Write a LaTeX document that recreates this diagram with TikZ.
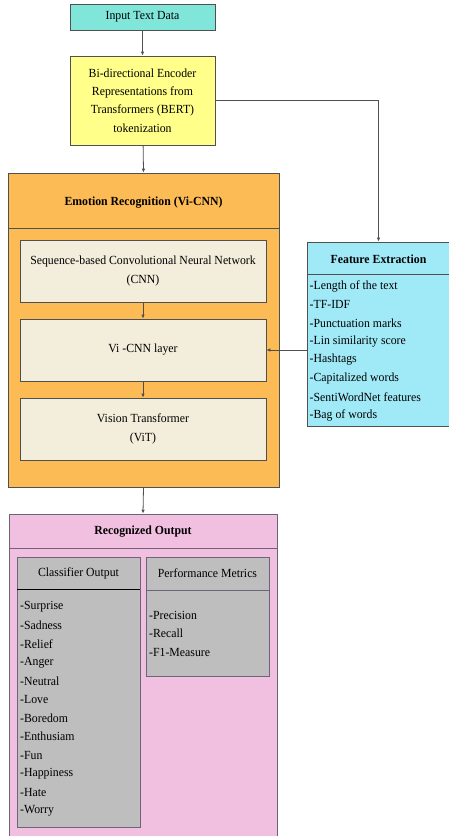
\documentclass[tikz,border=0pt]{standalone}
\usepackage{fontspec}
\setmainfont{Liberation Serif}[FakeStretch=0.95]
\usetikzlibrary{arrows.meta}
\definecolor{cInput}{HTML}{80E6D9}
\definecolor{cBert}{HTML}{FFFF8A}
\definecolor{cOrange}{HTML}{FDBB55}
\definecolor{cBeige}{HTML}{F3EEDB}
\definecolor{cCyan}{HTML}{A0EAF8}
\definecolor{cPink}{HTML}{F1C0E0}
\definecolor{cGray}{HTML}{BEBEBE}
\definecolor{cLine}{HTML}{505050}
\definecolor{cPurp}{HTML}{6E6478}
\begin{document}
\begin{tikzpicture}[x=1pt,y=-1pt,
  box/.style={draw=cLine,line width=0.8pt,inner sep=0pt,align=center,
    font=\fontsize{12.4}{18.3}\selectfont},
  ttl/.style={inner sep=0pt,font=\fontsize{12.4}{14}\selectfont\bfseries},
  sub/.style={inner sep=0pt,font=\fontsize{12.4}{14}\selectfont},
  item/.style={inner sep=0pt,anchor=west,font=\fontsize{12.4}{14}\selectfont},
  arr/.style={draw=cLine,line width=0.8pt,-{Latex[length=4pt,width=3.5pt]}},
  sep/.style={draw=cLine,line width=0.8pt}]
\useasboundingbox (0,0) rectangle (449,836);
% top
\node[box,fill=cInput,minimum width=145pt,minimum height=26pt] (inp) at (142.5,17) {Input Text Data};
\node[box,fill=cBert,minimum width=145pt,minimum height=89pt] (bert) at (142.5,100.5)
  {Bi-directional Encoder\\Representations from\\Transformers (BERT)\\tokenization};
% emotion recognition
\node[box,fill=cOrange,minimum width=271pt,minimum height=314pt] (emo) at (143.5,330) {};
\node[ttl] (emot) at (143.5,203) {Emotion Recognition (Vi-CNN)};
\draw[sep] (8,228) -- (279,228);
\node[box,fill=cBeige,minimum width=246pt,minimum height=62pt] (cnn) at (143,271)
  {Sequence-based Convolutional Neural Network\\(CNN)};
\node[box,fill=cBeige,minimum width=246pt,minimum height=62pt] (vicnn) at (143,350) {Vi -CNN layer};
\node[box,fill=cBeige,minimum width=246pt,minimum height=62pt] (vit) at (143,429)
  {Vision Transformer\\(ViT)};
% feature extraction
\node[box,fill=cCyan,minimum width=143pt,minimum height=184pt] (fe) at (378.5,334) {};
\node[ttl] (fet) at (378.5,259) {Feature Extraction};
\draw[sep] (307,274) -- (450,274);
\foreach \t [count=\i] in {Length of the text,TF-IDF,Punctuation marks,Lin similarity score,Hashtags,Capitalized words,SentiWordNet features,Bag of words}
  \node[item] (fe\i) at (309.5,{286+(\i-1)*18.5}) {-\t};
% recognized output
\node[box,draw=cPurp,fill=cPink,minimum width=268pt,minimum height=322pt] (rec) at (143,675) {};
\node[ttl] (rect) at (143,532) {Recognized Output};
\draw[sep,draw=cPurp] (9,548) -- (277,548);
\node[box,draw=cPurp,fill=cGray,minimum width=123pt,minimum height=270pt] (cls) at (78.5,692) {};
\node[sub] (clst) at (78.5,573) {Classifier Output};
\draw[sep,draw=black] (17,589) -- (140,589);
\foreach \t [count=\i] in {Surprise,Sadness,Relief,Anger,Neutral,Love,Boredom,Enthusiam,Fun,Happiness,Hate,Worry}
  \node[item] (cl\i) at (20,{607+(\i-1)*18.5}) {-\t};
\node[box,draw=cPurp,fill=cGray,minimum width=123pt,minimum height=119pt] (perf) at (207.5,616.5) {};
\node[sub] (perft) at (207.5,573.5) {Performance Metrics};
\draw[sep,draw=cPurp] (146,590) -- (269,590);
\foreach \t [count=\i] in {Precision,Recall,F1-Measure}
  \node[item] (pm\i) at (149,{615+(\i-1)*18.5}) {-\t};
% connectors
\draw[arr] (inp) -- (bert);
\draw[arr] (bert) -- (emo.north);
\draw[arr] (bert.east) -| (fe.north);
\draw[arr] (cnn) -- (vicnn);
\draw[arr] (vicnn) -- (vit);
\draw[arr] (fe.west |- vicnn.east) -- (vicnn.east);
\draw[arr] (emo.south) -- (rec.north);
\end{tikzpicture}
\end{document}
